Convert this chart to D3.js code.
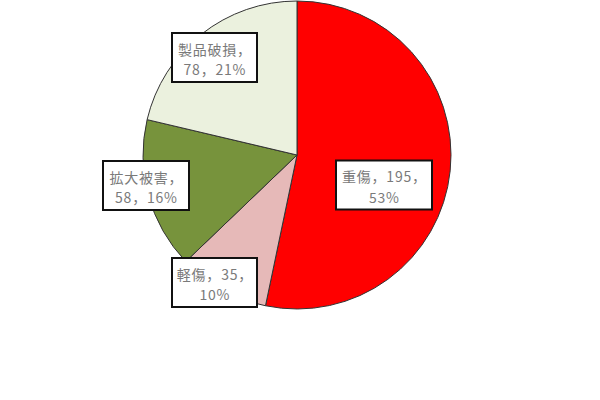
<!DOCTYPE html>
<html>
<head>
<meta charset="utf-8">
<script src="https://cdn.jsdelivr.net/npm/d3@7"></script>
<style>
  body { margin: 0; background: #fff; }
  text { font-family: "Noto Sans CJK JP", sans-serif; }
</style>
</head>
<body>
<svg id="chart" width="600" height="400"></svg>
<script>
// data
const categories = ["重傷", "軽傷", "拡大被害", "製品破損"];
const counts = [195, 35, 58, 78];
const percents = ["53%", "10%", "16%", "21%"];
const colors = ["#ff0000", "#e6b9b8", "#77933c", "#ebf1de"];

// label text split into two lines, the way the boxes wrap
const labelLines = categories.map((c, i) =>
  i < 2 ? [c + "，" + counts[i] + "，", percents[i]]
        : [c + "，", counts[i] + "，" + percents[i]]);
// box centre x, centre y, width (placed by eye)
const labelBox = [[384, 185, 96], [214.5, 282.5, 85], [146, 185.5, 86], [214.5, 57.5, 85]];

const cx = 297, cy = 155, r = 154;
const svg = d3.select("#chart");

const pie = d3.pie().sort(null).value(d => d);
const arc = d3.arc().innerRadius(0).outerRadius(r);

const g = svg.append("g").attr("transform", `translate(${cx},${cy})`);
g.selectAll("path")
  .data(pie(counts))
  .enter().append("path")
  .attr("d", arc)
  .attr("fill", (d, i) => colors[i])
  .attr("stroke", "#333")
  .attr("stroke-width", 1);

const labels = svg.selectAll(".lbl")
  .data(categories)
  .enter().append("g")
  .attr("class", "lbl")
  .attr("transform", (d, i) => `translate(${labelBox[i][0]},${labelBox[i][1]})`);

labels.append("rect")
  .attr("x", (d, i) => -labelBox[i][2] / 2).attr("y", -24.5)
  .attr("width", (d, i) => labelBox[i][2]).attr("height", 49)
  .attr("fill", "#fff")
  .attr("stroke", "#111")
  .attr("stroke-width", 2);

// one text per line so the lines stay apart
labels.each(function(d, i) {
  labelLines[i].forEach((line, j) => {
    d3.select(this).append("text")
      .attr("x", 0.4)
      .attr("y", j === 0 ? -3 : 17.5)
      .attr("text-anchor", "middle")
      .attr("fill", "#7a7a7a")
      .attr("font-size", 14)
      .attr("letter-spacing", 0.8)
      .text(line);
  });
});
</script>
</body>
</html>
